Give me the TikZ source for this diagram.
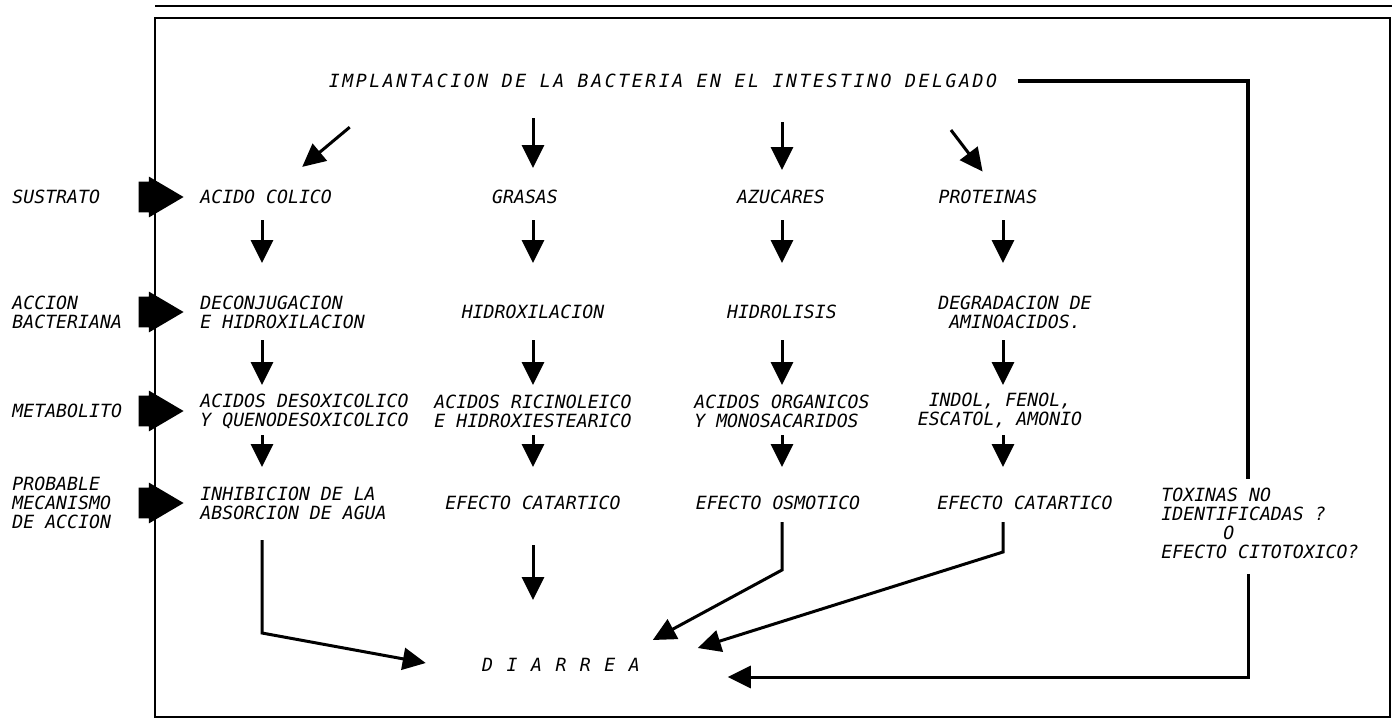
\documentclass[tikz,border=0pt]{standalone}
\usepackage{fontspec}
\setmonofont{DejaVu Sans Mono}[ItalicFont={DejaVu Sans Mono Oblique}]
\newfontfamily\spacedfont{DejaVu Sans Mono}[LetterSpace=14, ItalicFont={DejaVu Sans Mono Oblique}]
\usetikzlibrary{arrows.meta, shapes.arrows}

\begin{document}
\begin{tikzpicture}[x=0.5pt, y=-0.5pt]
  \tikzset{
    txt/.style = {font=\fontsize{9.1}{9.5}\selectfont\ttfamily\itshape, inner sep=0pt, align=left},
    spaced/.style = {font=\fontsize{9.1}{9.5}\selectfont\spacedfont\itshape, inner sep=0pt},
    frame/.style = {line width=1.3pt},
    link/.style = {line width=1.6pt},
    flow/.style = {line width=1.5pt, -{Triangle[length=11.5pt, width=11pt]}},
    blockarrow/.style = {single arrow, fill=black, inner xsep=0pt, inner ysep=7.5pt, minimum height=22.5pt,
                         single arrow head extend=2.5pt, single arrow tip angle=61}
  }
  \useasboundingbox (0,0) rectangle (1392,719);

  % Frame
  \coordinate (tl) at (155,18);
  \coordinate (tr) at (1390,18);
  \coordinate (bl) at (155,717);
  \coordinate (br) at (1390,717);
  \coordinate (ol) at (155,6);
  \coordinate (or) at (1392,6);
  \draw[frame] (ol) -- (or);
  \draw[frame] (bl) -- (tl) -- (tr) -- (br) -- cycle;

  % Title
  \node (title) at (663,81) [spaced] {IMPLANTACION DE LA BACTERIA EN EL INTESTINO DELGADO};

  % Row labels
  \node (sustrato) at (12,197) [txt, anchor=west] {SUSTRATO};
  \node (accion) at (12,312) [txt, anchor=west] {ACCION\\BACTERIANA};
  \node (metab) at (12,411) [txt, anchor=west] {METABOLITO};
  \node (mecan) at (12,503) [txt, anchor=west] {PROBABLE\\MECANISMO\\DE ACCION};

  % Block arrows on the left line
  \node (ba1) at (148,197) [blockarrow] {};
  \node (ba2) at (148,312) [blockarrow] {};
  \node (ba3) at (148,411) [blockarrow] {};
  \node (ba4) at (148,503) [blockarrow] {};

  % Column 1: acido colico
  \node (acido) at (200,197) [txt, anchor=west] {ACIDO COLICO};
  \node (decon) at (200,312) [txt, anchor=west] {DECONJUGACION\\E HIDROXILACION};
  \node (desox) at (200,411) [txt, anchor=west] {ACIDOS DESOXICOLICO\\Y QUENODESOXICOLICO};
  \node (inhib) at (200,503) [txt, anchor=west] {INHIBICION DE LA\\ABSORCION DE AGUA};

  % Column 2: grasas
  \node (grasas) at (525,197) [txt] {GRASAS};
  \node (hidrox) at (533,312) [txt] {HIDROXILACION};
  \node (ricin) at (533,411) [txt] {ACIDOS RICINOLEICO\\E HIDROXIESTEARICO};
  \node (cat2) at (533,503) [txt] {EFECTO CATARTICO};

  % Column 3: azucares
  \node (azucar) at (781,197) [txt] {AZUCARES};
  \node (hidrol) at (782,312) [txt] {HIDROLISIS};
  \node (organ) at (782,411) [txt] {ACIDOS ORGANICOS\\Y MONOSACARIDOS};
  \node (osm) at (778,503) [txt] {EFECTO OSMOTICO};

  % Column 4: proteinas
  \node (prot) at (988,197) [txt] {PROTEINAS};
  \node (degrad) at (1015,312) [txt] {DEGRADACION DE\\\ AMINOACIDOS.};
  \node (indol) at (1000,411) [txt, align=center] {INDOL, FENOL,\\ESCATOL, AMONIO};
  \node (cat4) at (1025,503) [txt] {EFECTO CATARTICO};

  % Right branch
  \node (toxinas) at (1260,523) [txt] {TOXINAS NO\\IDENTIFICADAS ?\\\hspace*{3.4em}O\\EFECTO CITOTOXICO?};

  % Result
  \node (diarrea) at (561,665) [spaced] {D I A R R E A};

  % Column lines
  \coordinate (c1) at (262,0);
  \coordinate (c2) at (533,0);
  \coordinate (c3) at (782,0);
  \coordinate (c4) at (1003,0);
  \coordinate (rc) at (1248,81);

  % Title to substrates
  \draw[flow, shorten <=36pt, shorten >=23.5pt] ([xshift=-129pt]title.center) -- (acido.center);
  \draw[flow, shorten <=18.5pt, shorten >=14.5pt] (title.center -| c2) -- (grasas.center -| c2);
  \draw[flow, shorten <=20.5pt, shorten >=13.5pt] (title.center -| c3) -- (azucar.center -| c3);
  \draw[flow, shorten <=30.8pt, shorten >=16pt] ([xshift=125.3pt]title.center) -- ([xshift=7pt]prot.center);

  % Substrate to bacterial action
  \draw[flow, shorten <=11.5pt, shorten >=24.5pt] (acido.center -| c1) -- (decon.center -| c1);
  \draw[flow, shorten <=11.5pt, shorten >=24.5pt] (grasas.center -| c2) -- (hidrox.center -| c2);
  \draw[flow, shorten <=11.5pt, shorten >=24.5pt] (azucar.center -| c3) -- (hidrol.center -| c3);
  \draw[flow, shorten <=11.5pt, shorten >=24.5pt] (prot.center -| c4) -- (degrad.center -| c4);

  % Bacterial action to metabolite
  \draw[flow, shorten <=14pt, shorten >=13pt] (decon.center -| c1) -- (desox.center -| c1);
  \draw[flow, shorten <=14pt, shorten >=13pt] (hidrox.center -| c2) -- (ricin.center -| c2);
  \draw[flow, shorten <=14pt, shorten >=13pt] (hidrol.center -| c3) -- (organ.center -| c3);
  \draw[flow, shorten <=14pt, shorten >=13pt] (degrad.center -| c4) -- (indol.center -| c4);

  % Metabolite to mechanism
  \draw[flow, shorten <=12pt, shorten >=18pt] (desox.center -| c1) -- (inhib.center -| c1);
  \draw[flow, shorten <=12pt, shorten >=18pt] (ricin.center -| c2) -- (cat2.center -| c2);
  \draw[flow, shorten <=12pt, shorten >=18pt] (organ.center -| c3) -- (osm.center -| c3);
  \draw[flow, shorten <=12pt, shorten >=18pt] (indol.center -| c4) -- (cat4.center -| c4);

  % Mechanisms to diarrea
  \coordinate (k1) at (262,633);
  \coordinate (k2) at (533,600);
  \coordinate (k3) at (782,570);
  \coordinate (k4) at (1003,552);
  \coordinate (d1) at ([xshift=-28pt, yshift=1pt]diarrea.west);
  \coordinate (d3) at ([xshift=6.25pt, yshift=12.5pt]diarrea.east);
  \coordinate (d4) at ([xshift=28.75pt, yshift=8.5pt]diarrea.east);
  \coordinate (d5) at ([xshift=43.75pt, yshift=-6pt]diarrea.east);
  \draw[flow, shorten <=18.5pt] (inhib.center -| c1) -- (k1) -- (d1);
  \draw[flow, shorten <=21pt] (cat2.center -| c2) -- (k2);
  \draw[flow, shorten <=9.5pt] (osm.center -| c3) -- (k3) -- (d3);
  \draw[flow, shorten <=9.5pt] (cat4.center -| c4) -- (k4) -- (d4);

  % Implantation to toxins to diarrea
  \draw[link, shorten <=10pt, shorten >=4pt] (title.east) -- (rc) -- (toxinas.north -| rc);
  \draw[flow, shorten <=7.5pt] (toxinas.south -| rc) -- (rc |- d5) -- (d5);
\end{tikzpicture}
\end{document}
